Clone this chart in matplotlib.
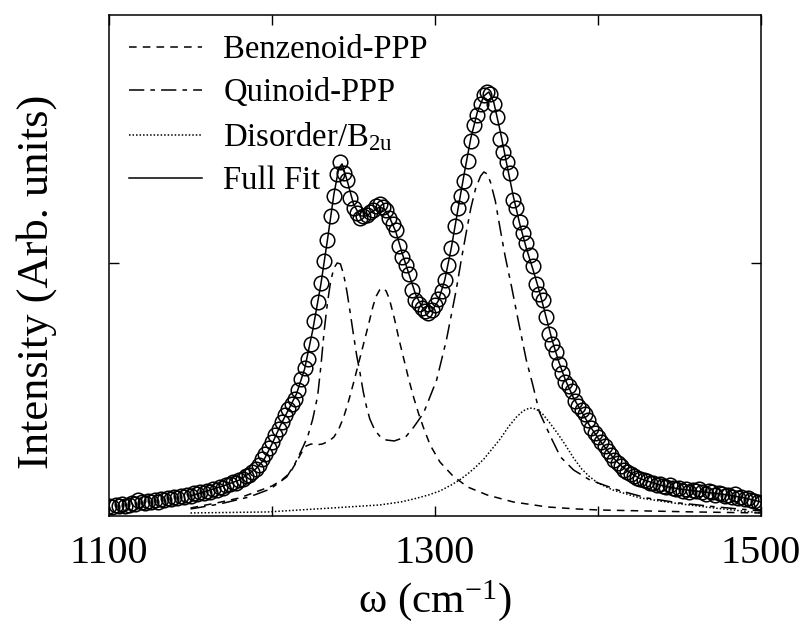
import numpy as np
import matplotlib
matplotlib.use('Agg')
import matplotlib.pyplot as plt

plt.rcParams['font.family'] = ['Liberation Serif', 'DejaVu Serif']
plt.rcParams['mathtext.fontset'] = 'custom'
plt.rcParams['mathtext.rm'] = 'Liberation Serif'
plt.rcParams['mathtext.it'] = 'Liberation Serif:italic'

# measured Raman spectrum (cm^-1, arb. units)
w_data = np.arange(1100, 1501, 2)
i_data = [
    10, 9, 11, 10, 12, 10, 11, 13, 12, 16, 14, 13, 15, 14, 16, 14, 17, 16, 18, 17,
    19, 18, 20, 19, 21, 20, 23, 22, 24, 23, 25, 24, 27, 26, 29, 28, 31, 32, 34, 33,
    36, 37, 40, 41, 44, 47, 51, 57, 62, 68, 74, 81, 87, 94, 101, 107, 112, 117, 126, 137,
    148, 157, 172, 195, 214, 233, 255, 276, 300, 320, 342, 354, 343, 336, 318, 308, 303, 298, 300, 301,
    304, 306, 310, 312, 309, 306, 298, 292, 286, 270, 259, 251, 242, 226, 216, 212, 208, 205, 203, 206,
    211, 217, 225, 236, 251, 268, 290, 308, 320, 335, 355, 375, 391, 401, 412, 421, 424, 422, 412, 399,
    377, 364, 354, 343, 316, 308, 294, 283, 273, 261, 250, 232, 222, 216, 199, 182, 172, 164, 152, 143,
    134, 130, 125, 115, 110, 106, 102, 96, 88, 83, 79, 74, 70, 65, 61, 56, 53, 50, 46, 44,
    42, 40, 38, 37, 36, 35, 33, 33, 31, 32, 30, 29, 31, 28, 27, 28, 25, 27, 24, 26,
    25, 27, 24, 22, 25, 24, 21, 23, 22, 20, 21, 19, 22, 18, 19, 17, 18, 16, 15, 14,
    13,
]

# full fit
w_fit = [1150, 1160, 1170, 1180, 1190, 1195, 1200, 1205, 1210, 1215, 1220, 1225, 1230, 1234,
         1238, 1241, 1243, 1246, 1250, 1254, 1258, 1262, 1266, 1269, 1272, 1276, 1280, 1284,
         1288, 1292, 1295, 1298, 1302, 1306, 1310, 1314, 1318, 1322, 1326, 1330, 1333, 1336,
         1340, 1344, 1348, 1352, 1356, 1360, 1364, 1368, 1372, 1376, 1380, 1385, 1390, 1395,
         1400, 1405, 1410, 1415, 1420, 1425, 1430, 1440, 1450, 1460, 1470, 1480, 1490, 1500]
i_fit = [20, 25, 30, 36, 47, 56, 72, 90, 106, 122, 147, 186, 232, 276,
         322, 348, 352, 336, 312, 300, 300, 305, 309, 307, 299, 284, 262, 242,
         222, 209, 204, 205, 215, 236, 268, 306, 343, 378, 404, 420, 424, 414,
         385, 352, 320, 292, 268, 247, 225, 200, 175, 154, 136, 118, 104, 90,
         78, 67, 57, 49, 43, 38, 35, 30, 27, 25, 23, 21, 18, 14]

# benzenoid-PPP component
w_benz = [1150, 1166, 1180, 1190, 1200, 1206, 1211, 1215, 1218, 1221, 1224, 1227, 1231, 1235,
          1238, 1241, 1244, 1247, 1250, 1253, 1256, 1259, 1262, 1264, 1266, 1268, 1270, 1272,
          1275, 1278, 1281, 1284, 1287, 1290, 1293, 1297, 1303, 1311, 1320, 1332, 1348, 1369,
          1387, 1400, 1430, 1460, 1500]
i_benz = [8, 13, 18, 24, 30, 36, 43, 54, 63, 70, 72, 71, 72, 75,
          79, 87, 99, 115, 133, 152, 171, 190, 210, 220, 226, 228, 225, 217,
          198, 176, 156, 136, 118, 102, 88, 71, 54, 40, 29, 21, 14, 9,
          7, 6, 5, 4, 3]

# quinoid-PPP component
w_quin = [1150, 1168, 1186, 1199, 1209, 1214, 1219, 1222, 1225, 1228, 1230, 1232, 1234, 1236,
          1238, 1240, 1242, 1244, 1246, 1248, 1250, 1252, 1254, 1256, 1258, 1260, 1263, 1266,
          1270, 1275, 1282, 1287, 1293, 1301, 1307, 1313, 1316, 1319, 1322, 1325, 1328, 1330,
          1332, 1334, 1337, 1340, 1343, 1347, 1351, 1356, 1360, 1364, 1371, 1377, 1385, 1395,
          1412, 1430, 1450, 1473, 1500]
i_quin = [7, 12, 19, 27, 39, 52, 69, 80, 97, 120, 150, 185, 213, 235,
          248, 253, 252, 241, 224, 203, 181, 160, 143, 124, 109, 97, 86, 80,
          76, 75, 79, 89, 103, 136, 176, 226, 255, 282, 308, 328, 340, 344,
          342, 334, 315, 287, 260, 229, 196, 156, 131, 104, 79, 59, 46, 36,
          26, 18, 13, 9, 5]

# disorder / B2u component
w_dis = [1150, 1197, 1237, 1266, 1279, 1287, 1296, 1303, 1310, 1315, 1320, 1325, 1330, 1335,
         1340, 1345, 1350, 1354, 1358, 1362, 1366, 1370, 1375, 1380, 1385, 1390, 1395, 1400,
         1409, 1426, 1446, 1471, 1500]
i_dis = [3, 4, 8, 11, 14, 17, 21, 25, 31, 36, 42, 49, 57, 67,
         77, 89, 99, 105, 108, 107, 102, 94, 83, 71, 58, 47, 39, 33,
         26, 18, 13, 8, 3]

fig = plt.figure(figsize=(8.04, 6.29), dpi=100)
ax = fig.add_axes([0.1356, 0.1797, 0.8109, 0.7965])

ax.plot(w_benz, i_benz, color='black', lw=1.1, ls=(0, (5, 4)), label='Benzenoid-PPP')
ax.plot(w_quin, i_quin, color='black', lw=1.1, ls=(0, (10, 4, 3, 4)), label='Quinoid-PPP')
ax.plot(w_dis, i_dis, color='black', lw=1.1, ls=(0, (1, 1.3)), label='Disorder/B$_{\\mathrm{2u}}$')
ax.plot(w_fit, i_fit, color='black', lw=1.1, label='Full Fit')
ax.plot(w_data, i_data, ls='none', marker='o', ms=10.5, mfc='none', mec='black', mew=1.1)

ax.set_xlim(1100, 1500)
ax.set_ylim(0, 501)
ax.set_xticks([1100, 1200, 1300, 1400, 1500])
ax.set_xticklabels(['1100', '', '1300', '', '1500'])
ax.set_yticks([253])
ax.set_yticklabels([])
ax.tick_params(direction='in', length=7, width=1.0, top=True, right=True,
               labelsize=29, pad=14)
for s in ax.spines.values():
    s.set_linewidth(1.1)

ax.set_xlabel('ω (cm$^{\\mathrm{-1}}$)', fontsize=31, labelpad=4)
ax.set_ylabel('Intensity (Arb. units)', fontsize=32)
ax.yaxis.set_label_coords(-0.08, 0.467)

ax.legend(loc='upper left', frameon=False, fontsize=23.5, handlelength=2.25,
          handletextpad=0.65, labelspacing=0.38, borderaxespad=0.2)

plt.savefig('out.png', dpi=100)
